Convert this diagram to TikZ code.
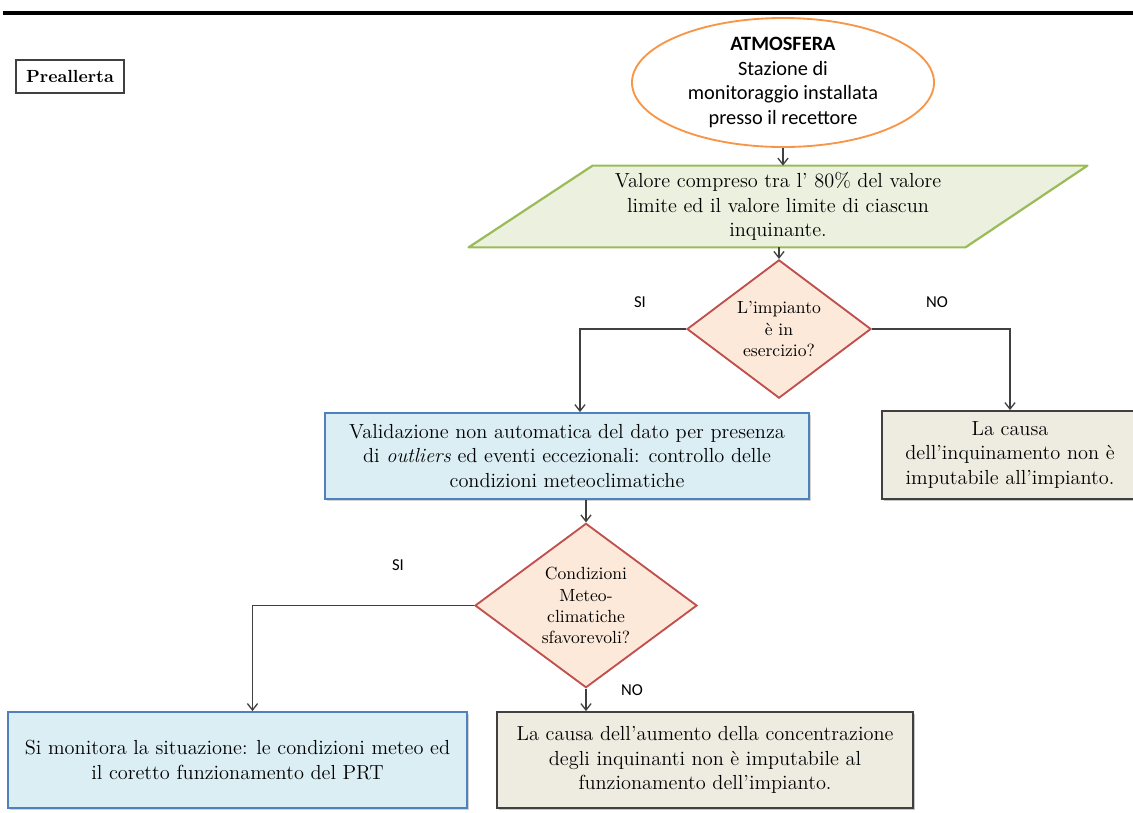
\documentclass[tikz,border=0pt]{standalone}
\usepackage{fontspec}
\newfontfamily\calibri{Carlito}
\usetikzlibrary{shapes.geometric,arrows.meta,calc,backgrounds,shadows}
\definecolor{darkline}{HTML}{404040}
\definecolor{orangeline}{HTML}{F79646}
\definecolor{greenline}{HTML}{9BBB59}
\definecolor{greenfill}{HTML}{EBF1DE}
\definecolor{redline}{HTML}{C0504D}
\definecolor{peach}{HTML}{FDE9D9}
\definecolor{blueline}{HTML}{4F81BD}
\definecolor{bluefill}{HTML}{DBEEF4}
\definecolor{beige}{HTML}{EEECE1}
\begin{document}
\begin{tikzpicture}[x=0.019cm, y=-0.019cm,
    conn/.style={draw=darkline, line width=0.7pt, -{Straight Barb[length=3.5pt,width=5.5pt]}},
    txt/.style={align=center, inner sep=1pt, font=\fontsize{11}{13.2}\selectfont},
    bluebox/.style={txt, rectangle, draw=blueline, fill=bluefill, line width=1pt,
        drop shadow={shadow xshift=1pt, shadow yshift=-1pt, opacity=0.35}},
    beigebox/.style={txt, rectangle, draw=darkline, fill=beige, line width=1pt,
        drop shadow={shadow xshift=1.2pt, shadow yshift=-1.2pt, opacity=0.45}},
    decision/.style={diamond, draw=redline, fill=peach, line width=1pt, align=center,
        inner sep=0pt, font=\fontsize{9.5}{11.4}\selectfont},
    lbl/.style={font=\calibri\fontsize{9}{10}\selectfont, inner sep=0pt}]
    \useasboundingbox (0,0) rectangle (1133,812);

    % Header rule and title
    \draw[line width=2.2pt] (3,13) -- (1133,13);
    \node[rectangle, draw=darkline, line width=1pt, minimum width=2.052cm, minimum height=0.627cm,
        inner sep=0pt, font=\bfseries\fontsize{9.5}{11}\selectfont] (preall) at (70,76.5) {Preallerta};

    % Source
    \node[ellipse, draw=orangeline, fill=white, line width=1pt, minimum width=5.738cm,
        minimum height=2.451cm, inner sep=0pt, align=center,
        font=\calibri\fontsize{11}{13.2}\selectfont] (atmo) at (783,82.5)
        {\textbf{ATMOSFERA}\\Stazione di\\monitoraggio installata\\presso il recettore};

    % Threshold (parallelogram)
    \node[txt, minimum width=11.742cm, minimum height=1.539cm] (valore) at (778,206.5)
        {Valore compreso tra l’ 80\% del valore\\limite ed il valore limite di ciascun\\inquinante.};
    \begin{scope}[on background layer]
        \filldraw[draw=greenline, fill=greenfill, line width=1.2pt, line join=round]
            (valore.south west) -- ($(valore.south east)+(-122,0)$) -- (valore.north east)
            -- ($(valore.north west)+(124,0)$) -- cycle;
    \end{scope}

    % First decision
    \node[decision, minimum width=3.496cm, minimum height=2.622cm] (imp) at (779,329)
        {L’impianto\\è in\\esercizio?};
    \node[bluebox, minimum width=9.196cm, minimum height=1.634cm] (valid) at (567,456)
        {Validazione non automatica del dato per presenza\\di \textit{outliers} ed eventi eccezionali: controllo delle\\condizioni meteoclimatiche};
    \node[beigebox, minimum width=4.864cm, minimum height=1.672cm] (causaA) at (1010,455)
        {La causa\\dell’inquinamento non è\\imputabile all’impianto.};

    % Second decision
    \node[decision, minimum width=4.218cm, minimum height=2.679cm] (meteo) at (586,605.5)
        {Condizioni\\Meteo-\\climatiche\\sfavorevoli?};
    \node[bluebox, minimum width=8.721cm, minimum height=1.824cm] (monitor) at (237.5,760)
        {Si monitora la situazione: le condizioni meteo ed\\il coretto funzionamento del PRT};
    \node[beigebox, minimum width=7.904cm, minimum height=1.824cm] (causaB) at (705,760)
        {La causa dell’aumento della concentrazione\\degli inquinanti non è imputabile al\\funzionamento dell’impianto.};

    % Connectors
    \draw[conn] (atmo.south) -- (atmo.south |- valore.north);
    \draw[conn] (imp.north |- valore.south) -- (imp.north);
    \draw[conn] (imp.west) -| ($(valid.north)+(13,0)$);
    \draw[conn] (imp.east) -| (causaA.north);
    \draw[conn] (meteo.north |- valid.south) -- (meteo.north);
    \draw[conn] (meteo.west) -| ($(monitor.north)+(15,0)$);
    \draw[conn] (meteo.south) -- (meteo.south |- causaB.north);

    % Branch labels
    \node[lbl] (siA) at (640,302) {SI};
    \node[lbl] (noA) at (937,302) {NO};
    \node[lbl] (siB) at (398,565) {SI};
    \node[lbl] (noB) at (632,690) {NO};
\end{tikzpicture}
\end{document}
